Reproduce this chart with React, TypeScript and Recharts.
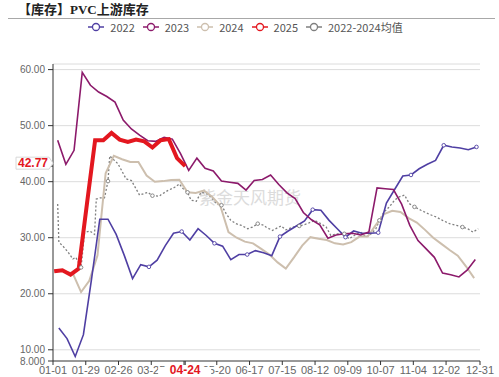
import { LineChart, Line, XAxis, YAxis, ReferenceLine } from "recharts";

// x axis: day of year on a 01-01 .. 12-31 calendar
const tickDays = [0, 28, 56, 84, 112, 140, 168, 196, 224, 252, 280, 308, 336, 365];
// 04-22 sits under the red latest-date label, so it is left blank
const tickLabels = ["01-01", "01-29", "02-26", "03-25", "", "05-20", "06-17", "07-15", "08-12", "09-09", "10-07", "11-04", "12-02", "12-31"];
const latestDay = 113;
const latestLabel = "04-24";

const yTicks = [8, 10, 20, 30, 40, 50, 60];
const gridValues = [10, 20, 30, 40, 50, 60, 61];

// weekly series, first report day of each year
const start2022 = 5;
const start2023 = 4;
const start2024 = 3;
const start2025 = 1;

const values2022 = [13.9, 12.0, 8.8, 12.7, 22.7, 33.3, 33.3, 30.6, 26.8, 22.7, 25.2, 24.8, 26.0, 28.6, 30.8, 31.1, 29.6, 31.6, 30.4, 29.0, 28.5, 26.1, 27.0, 27.0, 27.7, 27.3, 26.8, 30.2, 31.2, 32.1, 33.0, 35.0, 34.9, 33.1, 31.6, 30.1, 31.2, 30.8, 30.8, 30.9, 36.2, 38.6, 41.0, 41.2, 42.3, 43.1, 43.8, 46.5, 46.2, 46.0, 45.7, 46.2];
const values2023 = [47.4, 43.1, 45.6, 59.5, 57.2, 56.0, 55.2, 54.2, 51.0, 49.4, 48.3, 47.3, 47.2, 47.9, 47.6, 45.0, 42.0, 44.2, 42.4, 41.9, 40.1, 39.9, 39.7, 38.5, 40.2, 40.4, 41.2, 39.5, 38.0, 37.0, 34.5, 33.2, 32.3, 29.9, 30.5, 30.7, 30.8, 30.5, 31.0, 38.9, 38.75, 38.6, 36.0, 32.2, 29.5, 28.0, 26.5, 23.7, 23.4, 23.0, 24.2, 26.1];
const values2024 = [24.2, 24.0, 23.6, 20.3, 22.3, 26.8, 41.5, 44.6, 44.0, 43.5, 43.5, 41.1, 40.0, 40.1, 40.3, 40.35, 38.1, 38.0, 38.4, 37.3, 35.7, 31.0, 30.0, 29.3, 29.0, 28.0, 27.0, 25.6, 24.5, 26.5, 28.6, 30.1, 29.8, 29.6, 29.0, 28.8, 29.2, 30.2, 30.2, 32.3, 34.2, 34.8, 34.6, 33.5, 32.7, 31.4, 30.0, 28.9, 27.8, 26.8, 24.9, 22.8];
const values2025 = [24.0, 24.2, 23.4, 24.5, 36.0, 47.4, 47.4, 48.7, 47.5, 47.1, 47.5, 47.2, 46.1, 47.4, 47.6, 44.2, 42.77];

// 2022-2024 average, plotted on every day it was reported
const avgDays = [4, 5, 8.5, 13, 17, 19.5, 24, 27, 31.5, 35.5, 37, 40, 44, 47, 48.5, 55.5, 62.5, 67, 74, 81, 85, 91, 92.5, 98, 104, 108, 111, 115, 118, 122.5, 126.5, 131, 135, 139.5, 144, 148, 152, 156.5, 161, 166.5, 170.5, 175, 180.5, 182, 187.5, 195, 199, 205, 210.5, 217.5, 223.5, 229, 233.5, 237.5, 243, 249, 253, 259, 263, 267.5, 272, 276, 279, 283, 287.5, 292, 296, 300.5, 304.5, 309, 314.5, 321.5, 327.5, 333, 339, 345, 350, 354.5, 359, 363.5];
const avgValues = [36.0, 29.2, 28.5, 27.4, 26.2, 26.5, 24.7, 30.9, 31.2, 30.6, 36.9, 37.1, 37.1, 40.1, 44.6, 43.2, 40.5, 40.2, 37.6, 38.1, 37.5, 37.4, 37.7, 38.4, 39.0, 39.6, 38.8, 38.1, 36.7, 36.5, 38.1, 37.9, 37.3, 36.1, 35.8, 34.3, 33.1, 32.5, 32.2, 31.6, 31.9, 32.5, 32.2, 31.9, 31.3, 32.1, 31.4, 31.9, 32.1, 32.5, 33.1, 32.5, 31.9, 30.4, 30.7, 30.7, 29.8, 30.6, 31.0, 30.1, 30.7, 31.6, 33.1, 34.6, 35.5, 36.7, 37.3, 37.6, 36.1, 35.5, 34.9, 34.2, 33.7, 33.1, 32.5, 32.2, 31.9, 31.6, 31.0, 31.6];

const weekly = (start: number, values: number[]) => values.map((v, i) => ({ d: start + 7 * i, v }));

const data2022 = weekly(start2022, values2022);
const data2023 = weekly(start2023, values2023);
const data2024 = weekly(start2024, values2024);
const data2025 = weekly(start2025, values2025);
const dataAvg = avgDays.map((d, i) => ({ d, v: avgValues[i] }));

const latestValue = values2025[values2025.length - 1];

const series = [
  { name: "2022", color: "#4f3fa3" },
  { name: "2023", color: "#8c1a6b" },
  { name: "2024", color: "#cdbfae" },
  { name: "2025", color: "#e3171f" },
  { name: "2022-2024均值", color: "#7f7f7f" },
];

const labelFont = '"Liberation Sans", Arial, sans-serif';

function hollowDot(color: string, every: number, offset: number, from: number) {
  return (props: any) => {
    const { cx, cy, index } = props;
    if (index < from || index % every !== offset || cx == null || cy == null) return <g key={`n-${index}`} />;
    return <circle key={`d-${index}`} cx={cx} cy={cy} r={1.8} fill="#fff" stroke={color} strokeWidth={0.9} />;
  };
}

function YTick({ x, y, payload }: any) {
  if (payload.value === latestValue) {
    return (
      <g>
        <polygon
          points={`${x - 29},${y - 9} ${x + 4},${y - 9} ${x + 8},${y - 3} ${x + 4},${y + 3} ${x - 29},${y + 3}`}
          fill="#fff"
          stroke="#d8d8d8"
        />
        <text x={x - 12} y={y - 3} dy="0.35em" textAnchor="middle" fill="#e3171f" fontSize={12} fontWeight="bold" fontFamily={labelFont}>
          {payload.value.toFixed(2)}
        </text>
      </g>
    );
  }
  const label = payload.value === 8 ? "8.000" : payload.value.toFixed(2);
  return (
    <text x={x} y={y} dy="0.35em" textAnchor="end" fill="#666" fontSize={10} fontFamily={labelFont}>
      {label}
    </text>
  );
}

function XTick({ x, y, payload }: any) {
  if (payload.value === latestDay) {
    return (
      <g>
        <rect x={x - 27} y={y + 1} width={53} height={11} fill="#fff" />
        <text x={x} y={y + 8} textAnchor="middle" fill="#e3171f" fontSize={12} fontWeight="bold" fontFamily={labelFont}>
          {latestLabel}
        </text>
      </g>
    );
  }
  const label = tickLabels[tickDays.indexOf(payload.value)];
  if (!label) return <g />;
  return (
    <text x={x} y={y} dy="0.72em" textAnchor="middle" fill="#666" fontSize={11} fontFamily={labelFont}>
      {label}
    </text>
  );
}

function LegendRow() {
  return (
    <div style={{ position: "absolute", top: 19, left: 0, width: 499, display: "flex", justifyContent: "center", fontSize: 11, color: "#555", fontFamily: '"Noto Sans CJK SC", "Noto Sans", sans-serif' }}>
      {series.map((s) => (
        <div key={s.name} style={{ display: "flex", alignItems: "center", marginRight: 8 }}>
          <svg width={16} height={14} style={{ marginRight: 6 }}>
            <line x1={0} y1={7} x2={16} y2={7} stroke={s.color} strokeWidth={1.5} />
            <circle cx={8} cy={7} r={3.5} fill="#fff" stroke={s.color} strokeWidth={1.3} />
          </svg>
          <span>{s.name}</span>
        </div>
      ))}
    </div>
  );
}

export default function App() {
  return (
    <div style={{ position: "fixed", left: 0, top: 0, width: 499, height: 377, background: "#fff", overflow: "hidden" }}>
      <div style={{ position: "absolute", left: 18, top: -1, fontSize: 13, fontWeight: "bold", color: "#222", fontFamily: 'serif, "Noto Sans CJK SC"' }}>
        【库存】PVC上游库存
      </div>
      <div style={{ position: "absolute", left: 8, top: 18, width: 487, height: 1, background: "#a8a8a8" }} />
      <LegendRow />
      <div style={{ position: "absolute", left: 199, top: 184, fontSize: 17, color: "#dcdcdc", fontFamily: '"Noto Sans CJK SC", sans-serif' }}>
        紫金天风期货
      </div>
      <div style={{ position: "absolute", left: 0, top: 0 }}>
        <LineChart width={499} height={377} margin={{ top: 64, right: 19, bottom: 0, left: 0 }}>
          <XAxis
            dataKey="d"
            type="number"
            domain={[0, 365]}
            ticks={[...tickDays, latestDay]}
            interval={0}
            height={16}
            tick={<XTick />}
            tickSize={4}
            tickMargin={1}
            stroke="#333"
            allowDataOverflow
          />
          <YAxis
            type="number"
            domain={[8, 61]}
            ticks={[...yTicks, latestValue]}
            interval={0}
            width={53}
            tick={<YTick />}
            tickSize={5}
            tickMargin={3}
            stroke="#333"
            allowDataOverflow
          />
          {gridValues.map((g) => (
            <ReferenceLine key={g} y={g} stroke="#dcdcdc" strokeWidth={1} />
          ))}
          <Line data={dataAvg} dataKey="v" name="2022-2024均值" stroke="#7f7f7f" strokeWidth={1.3} strokeDasharray="2 2" dot={hollowDot("#7f7f7f", 7, 6, 0)} isAnimationActive={false} />
          <Line data={data2024} dataKey="v" name="2024" stroke="#cdbfae" strokeWidth={2} dot={false} isAnimationActive={false} />
          <Line data={data2022} dataKey="v" name="2022" stroke="#4f3fa3" strokeWidth={1.6} dot={hollowDot("#4f3fa3", 4, 3, 8)} isAnimationActive={false} />
          <Line data={data2023} dataKey="v" name="2023" stroke="#8c1a6b" strokeWidth={1.6} dot={false} isAnimationActive={false} />
          <Line data={data2025} dataKey="v" name="2025" stroke="#e3171f" strokeWidth={4} dot={false} isAnimationActive={false} />
        </LineChart>
      </div>
    </div>
  );
}
